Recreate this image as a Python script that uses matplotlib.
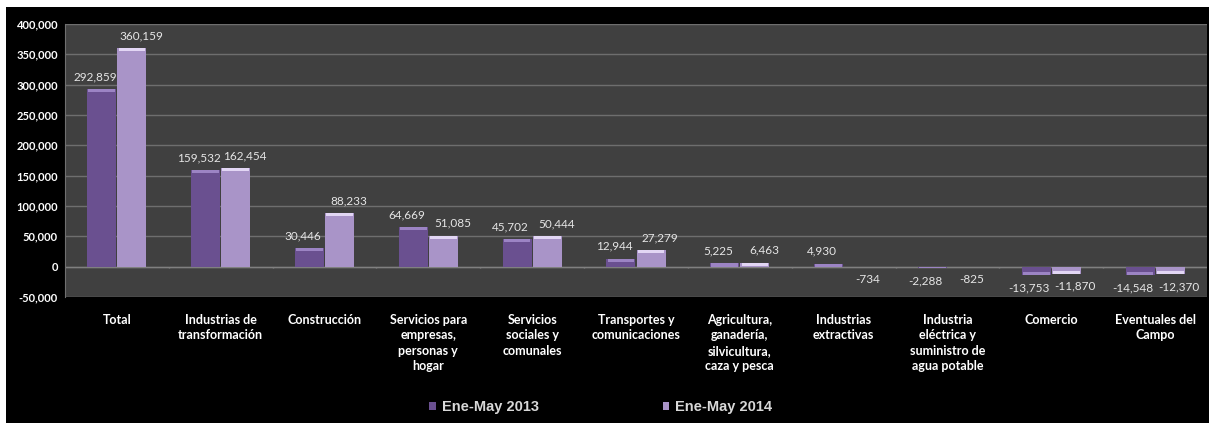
import numpy as np
import matplotlib.pyplot as plt
from matplotlib.patches import Rectangle
from matplotlib.ticker import FuncFormatter

# Datos: variación de empleo por sector
sectores = ['Total', 'Industrias de\ntransformación', 'Construcción',
            'Servicios para\nempresas,\npersonas y\nhogar', 'Servicios\nsociales y\ncomunales',
            'Transportes y\ncomunicaciones', 'Agricultura,\nganadería,\nsilvicultura,\ncaza y pesca',
            'Industrias\nextractivas', 'Industria\neléctrica y\nsuministro de\nagua potable',
            'Comercio', 'Eventuales del\nCampo']
ene_may_2013 = [292859, 159532, 30446, 64669, 45702, 12944, 5225, 4930, -2288, -13753, -14548]
ene_may_2014 = [360159, 162454, 88233, 51085, 50444, 27279, 6463, -734, -825, -11870, -12370]
series_nombres = ['Ene-May 2013', 'Ene-May 2014']

plt.rcParams['font.family'] = ['Lato', 'DejaVu Sans']

fig = plt.figure(figsize=(12.09, 4.23), dpi=100, facecolor='white')
# fondo negro del gráfico (franja blanca arriba e izquierda)
fig.patches.append(Rectangle((6 / 1209, 0), 1, 1 - 7 / 423, transform=fig.transFigure,
                             facecolor='black', edgecolor='none', zorder=-10))

ax = fig.add_axes([65 / 1209, 1 - 297 / 423, (1207 - 65) / 1209, (297 - 24) / 423])
ax.set_facecolor('#404040')
ax.set_zorder(1)

x = np.arange(len(sectores))
ancho = 0.28
desp = 0.145
colores = ['#6a5090', '#a994c8']
brillo = ['#9c84c4', '#e2d6f4']
ajuste_etiqueta = [-5, 6.5]  # las etiquetas de Excel se separan un poco

for i, (vals, col, br, nombre) in enumerate(zip([ene_may_2013, ene_may_2014], colores, brillo, series_nombres)):
    pos = x + (-desp if i == 0 else desp)
    ax.bar(pos, vals, width=ancho, color=col, edgecolor='none', zorder=3, label=nombre)
    # pequeño brillo en el extremo de cada barra
    tapa = [np.sign(v) * min(abs(v), 5000) for v in vals]
    base = [v - t for v, t in zip(vals, tapa)]
    ax.bar(pos, tapa, bottom=base, width=ancho * 0.92, color=br, edgecolor='none', zorder=4)
    for p, v in zip(pos, vals):
        ax.annotate(f'{v:,}', (p, v), xytext=(ajuste_etiqueta[i], 5 if v >= 0 else -5),
                    textcoords='offset points', ha='center', va='bottom' if v >= 0 else 'top',
                    color='#e6e6e6', fontsize=8.5)

ax.set_xlim(-0.5, len(sectores) - 0.5)
ax.set_ylim(-50000, 400000)
ax.set_yticks(np.arange(-50000, 400001, 50000))
ax.yaxis.set_major_formatter(FuncFormatter(lambda v, _: f'{int(v):,}'))
ax.tick_params(axis='y', colors='white', labelsize=8, length=0, pad=5)
for lab in ax.get_yticklabels():
    lab.set_fontweight('bold')
ax.grid(axis='y', color='#6e6e6e', linewidth=1, zorder=1)

ax.set_xticks(x)
ax.set_xticklabels(sectores, color='white', fontsize=9, fontweight='bold', linespacing=1.35)
ax.tick_params(axis='x', length=0, pad=12)

# eje en cero con marcas entre categorías
ax.axhline(0, color='#808080', linewidth=1, zorder=2)
ax.vlines(x[:-1] + 0.5, -3000, 0, color='#808080', linewidth=1, zorder=2)

for s in ax.spines.values():
    s.set_visible(False)
ax.spines['left'].set_visible(True)
ax.spines['left'].set_color('#707070')

leg = fig.legend(loc='lower center', bbox_to_anchor=(0.497, -0.01), ncol=2, frameon=False,
                 prop={'family': ['Liberation Sans', 'DejaVu Sans'], 'weight': 'bold', 'size': 10.5},
                 handlelength=0.45, handleheight=0.45, handletextpad=0.4, columnspacing=8.5)
for t in leg.get_texts():
    t.set_color('#d8d8d8')

fig.savefig('out.png', dpi=100, facecolor=fig.get_facecolor())
